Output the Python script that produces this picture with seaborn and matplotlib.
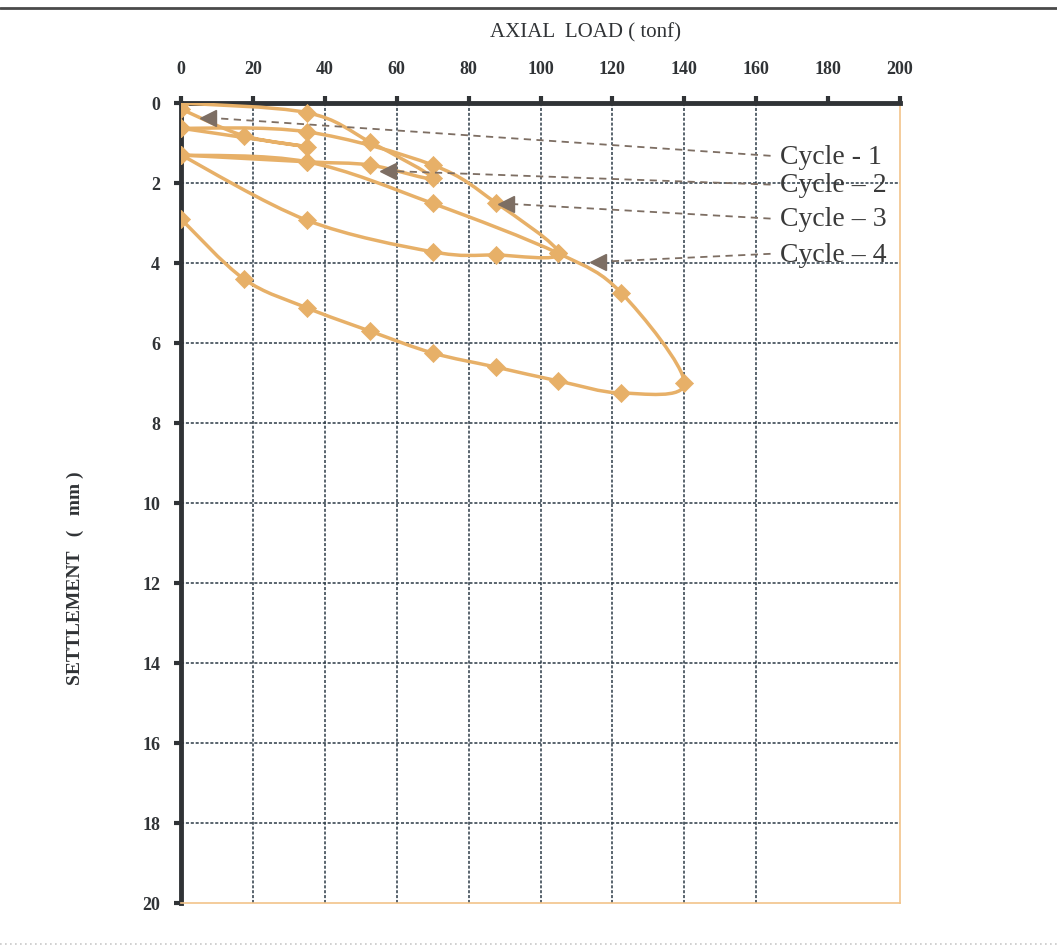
import numpy as np
import pandas as pd
import seaborn as sns
import matplotlib
matplotlib.use("Agg")
import matplotlib.pyplot as plt
from matplotlib.path import Path
from matplotlib.patches import PathPatch
from matplotlib.lines import Line2D

# ---------------- data ----------------
cycle_names = ["Cycle - 1", "Cycle \u2013 2", "Cycle \u2013 3", "Cycle \u2013 4"]

load_c1 = [0, 17.5, 35, 0]
settle_c1 = [0.15, 0.82, 1.09, 0.63]

load_c2 = [0, 35, 52.5, 70, 52.5, 35, 0]
settle_c2 = [0.0, 0.24, 0.97, 1.88, 1.55, 1.47, 1.30]

load_c3 = [0, 35, 70, 87.5, 105, 87.5, 70, 35, 0]
settle_c3 = [0.63, 0.72, 1.55, 2.49, 3.76, 3.80, 3.72, 2.93, 1.30]

load_c4 = [0, 35, 70, 105, 122.5, 140, 122.5, 105, 87.5, 70, 52.5, 35, 17.5, 0]
settle_c4 = [1.30, 1.47, 2.51, 3.76, 4.75, 7.00, 7.25, 6.95, 6.60, 6.25, 5.70, 5.12, 4.40, 2.90]

# annotation label anchor (load, settlement) and arrow tip (load, settlement)
label_load = [165.5, 165.5, 165.5, 165.5]
label_settle = [1.35, 2.07, 2.92, 3.80]
tip_load = [6.0, 56.0, 89.0, 114.5]
tip_settle = [0.37, 1.70, 2.52, 3.97]

x_ticks = [0, 20, 40, 60, 80, 100, 120, 140, 160, 180, 200]
y_ticks = [0, 2, 4, 6, 8, 10, 12, 14, 16, 18, 20]

x_label = "AXIAL  LOAD ( tonf)"
y_label = "SETTLEMENT   (   mm )"

# ---------------- styling ----------------
LINE_C = "#E7B068"
ARROW_C = "#7d6e63"
GRID_C = "#2c3a46"
DARK = "#303336"

sns.set_theme(style="white")
plt.rcParams['font.family'] = ['Liberation Serif', 'DejaVu Serif']

W, H = 1057, 950
fig = plt.figure(figsize=(W / 100, H / 100), dpi=100)
ax = fig.add_axes([181 / W, 1 - 903 / H, 719 / W, 800 / H])

frames = []
for name, lx, sy in zip(cycle_names,
                        [load_c1, load_c2, load_c3, load_c4],
                        [settle_c1, settle_c2, settle_c3, settle_c4]):
    frames.append(pd.DataFrame({"cycle": name, "load": lx, "settlement": sy}))
df = pd.concat(frames, ignore_index=True)


def smooth_path(xs, ys, t=1.0 / 6.0):
    """Catmull-Rom style cubic Bezier path through the points (like Excel smoothing)."""
    P = np.column_stack([xs, ys]).astype(float)
    n = len(P)
    verts = [P[0]]
    codes = [Path.MOVETO]
    for i in range(n - 1):
        p0 = P[i - 1] if i > 0 else P[i]
        p1 = P[i]
        p2 = P[i + 1]
        p3 = P[i + 2] if i + 2 < n else P[i + 1]
        c1 = p1 + (p2 - p0) * t
        c2 = p2 - (p3 - p1) * t
        verts += [c1, c2, p2]
        codes += [Path.CURVE4] * 3
    return Path(verts, codes)


for name, g in df.groupby("cycle", sort=False):
    patch = PathPatch(smooth_path(g["load"].values, g["settlement"].values),
                      facecolor="none", edgecolor=LINE_C, lw=2.5, zorder=3,
                      capstyle="round", joinstyle="round")
    ax.add_patch(patch)

sns.scatterplot(data=df, x="load", y="settlement", marker="D", s=85,
                color=LINE_C, edgecolor=LINE_C, linewidth=0.5, ax=ax,
                legend=False, zorder=4)

# axes setup
ax.set_xlim(0, 200)
ax.set_ylim(20, 0)
ax.set_xticks(x_ticks)
ax.set_yticks(y_ticks)
ax.set_xticklabels([str(v) for v in x_ticks], fontweight="bold", fontsize=13, color=DARK)
ax.set_yticklabels([str(v) for v in y_ticks], fontweight="bold", fontsize=13, color=DARK)
ax.xaxis.tick_top()
ax.tick_params(axis="x", which="major", direction="out", length=5, width=3,
               color=DARK, pad=13, top=True, bottom=False)
ax.tick_params(axis="y", which="major", direction="out", length=5, width=3,
               color=DARK, pad=10, left=True, right=False)
ax.set_xlabel("")
ax.set_ylabel("")

ax.grid(True, which="major", color=GRID_C, linestyle=(0, (2.0, 1.2)), linewidth=1.1)
ax.set_axisbelow(True)
# the 180 gridline is absent in the reference
for gl, v in zip(ax.get_xgridlines(), x_ticks):
    if v in (0, 180, 200):
        gl.set_visible(False)
for gl, v in zip(ax.get_ygridlines(), y_ticks):
    if v in (0, 20):
        gl.set_visible(False)

for side in ("left", "top"):
    ax.spines[side].set_color(DARK)
    ax.spines[side].set_linewidth(3.5)
for side in ("right", "bottom"):
    ax.spines[side].set_color("#F2C48A")
    ax.spines[side].set_linewidth(1.2)

# cycle annotations: dashed leader lines with triangular heads
for name, lx, ly, tx, ty in zip(cycle_names, label_load, label_settle, tip_load, tip_settle):
    ax.plot([lx - 1.5, tx + 2.0], [ly - 0.03, ty], linestyle=(0, (4, 3)),
            color=ARROW_C, lw=1.3, zorder=5)
    ax.plot([tx + 1.5], [ty], marker="<", markersize=11, color=ARROW_C,
            markeredgecolor=ARROW_C, zorder=6, linestyle="none")
    ax.text(lx + 1.2, ly, name, fontsize=20, color="#3a3a3a", ha="left",
            va="center", zorder=7)

# axis titles
fig.text(585 / W, 1 - 33 / H, x_label, fontsize=15, color=DARK,
         ha="center", va="center")
fig.text(75 / W, 1 - 578 / H, y_label, fontsize=14, fontweight="bold",
         color=DARK, ha="center", va="center", rotation=90)

# page rules
fig.add_artist(Line2D([0, 1], [1 - 8 / H, 1 - 8 / H], transform=fig.transFigure,
                      color="#4a4a4a", lw=2))
fig.add_artist(Line2D([0, 1], [1 - 944 / H, 1 - 944 / H], transform=fig.transFigure,
                      color="#c8c8c8", lw=1.2, linestyle=(0, (1, 2))))

fig.savefig("out.png", dpi=100, facecolor="white")
